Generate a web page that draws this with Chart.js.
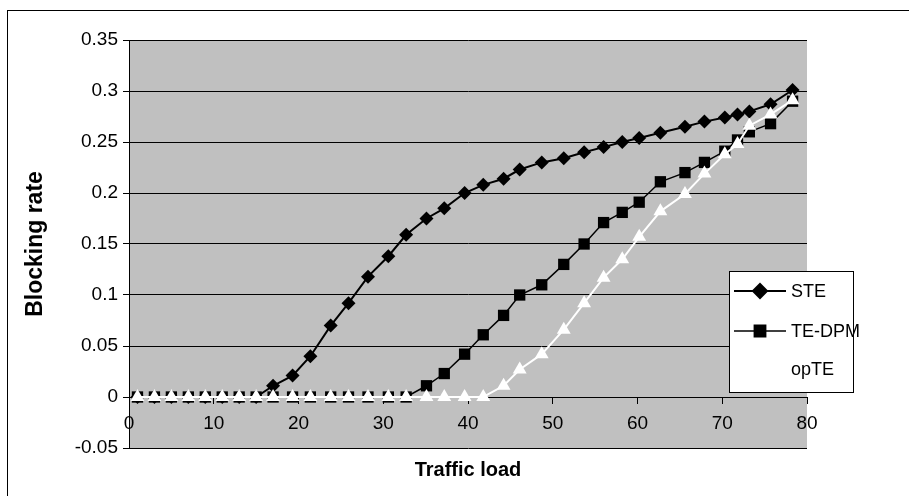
<!DOCTYPE html>
<html>
<head>
<meta charset="utf-8">
<script src="https://cdn.jsdelivr.net/npm/chart.js@4.4.1/dist/chart.umd.min.js"></script>
<style>
  body { margin: 0; background: #fff; }
  #wrap { position: relative; width: 909px; height: 496px; }
  #frame { position: absolute; left: 7px; top: 10px; width: 920px; height: 500px; border-left: 1px solid #000; border-top: 1px solid #000; }
  #xTitle { position: absolute; left: 129px; width: 678px; top: 458px; text-align: center;
            font: bold 20px "Liberation Sans", Arial, sans-serif; color: #000; }
</style>
</head>
<body>
<div id="wrap">
  <div id="frame"></div>
  <canvas id="blockingChart" width="909" height="496"></canvas>
  <div id="xTitle">Traffic load</div>
</div>
<script>
// Traffic load (x) shared by all three series
const load = [1, 3, 5, 7, 9, 11, 13, 15, 17, 19.3, 21.4, 23.8, 25.9, 28.2, 30.6, 32.7, 35.1, 37.2,
  39.6, 41.8, 44.2, 46.1, 48.7, 51.3, 53.7, 56, 58.2, 60.2, 62.7, 65.6, 67.9, 70.3, 71.8, 73.2, 75.7, 78.3];

const ste = [0, 0, 0, 0, 0, 0, 0, 0, 0.011, 0.021, 0.040, 0.070, 0.092, 0.118, 0.138, 0.159, 0.175, 0.185,
  0.200, 0.208, 0.214, 0.223, 0.230, 0.234, 0.240, 0.245, 0.250, 0.254, 0.259, 0.265, 0.270, 0.274, 0.277, 0.280, 0.287, 0.301];

const teDpm = [0, 0, 0, 0, 0, 0, 0, 0, 0, 0, 0, 0, 0, 0, 0, 0, 0.011, 0.023,
  0.042, 0.061, 0.080, 0.100, 0.110, 0.130, 0.150, 0.171, 0.181, 0.191, 0.211, 0.220, 0.230, 0.241, 0.252, 0.260, 0.268, 0.290];

const opTE = [0, 0, 0, 0, 0, 0, 0, 0, 0, 0, 0, 0, 0, 0, 0, 0, 0, 0,
  0, 0, 0.011, 0.027, 0.042, 0.066, 0.092, 0.117, 0.135, 0.157, 0.182, 0.199, 0.219, 0.238, 0.248, 0.266, 0.277, 0.291];

const xTicks = [0, 10, 20, 30, 40, 50, 60, 70, 80];
const yTicks = [-0.05, 0, 0.05, 0.1, 0.15, 0.2, 0.25, 0.3, 0.35];

const toPoints = (ys) => ys.map((y, i) => ({ x: load[i], y: y }));
const FONT = '"Liberation Sans", Arial, sans-serif';

// gray plot area like the old Excel default
const plotBg = {
  id: "plotBg",
  beforeDraw(chart) {
    const { ctx, chartArea: a } = chart;
    ctx.save();
    ctx.fillStyle = "#c0c0c0";
    ctx.fillRect(a.left, a.top, a.right - a.left, a.bottom - a.top);
    ctx.restore();
  },
};

// legend box sitting over the right side of the plot
const boxLegend = {
  id: "boxLegend",
  afterDraw(chart) {
    const ctx = chart.ctx;
    const bx = 729, by = 271, bw = 124, bh = 121;
    ctx.save();
    ctx.fillStyle = "#fff";
    ctx.fillRect(bx, by, bw, bh);
    ctx.strokeStyle = "#000";
    ctx.lineWidth = 1;
    ctx.strokeRect(bx + 0.5, by + 0.5, bw, bh);
    const rows = [291, 331, 369];
    chart.data.datasets.forEach((ds, i) => {
      const y = rows[i];
      ctx.strokeStyle = ds.borderColor;
      ctx.lineWidth = ds.borderWidth;
      ctx.beginPath();
      ctx.moveTo(734, y);
      ctx.lineTo(786, y);
      ctx.stroke();
      Chart.helpers.drawPoint(ctx, {
        pointStyle: ds.pointStyle, radius: ds.pointRadius, borderWidth: 1
      }, 760, y);
      ctx.fillStyle = ds.pointBackgroundColor;
      ctx.fill();
      ctx.fillStyle = "#000";
      ctx.font = "18px " + FONT;
      ctx.textBaseline = "middle";
      ctx.textAlign = "left";
      ctx.fillText(ds.label, 791, y + 1);
    });
    ctx.restore();
  },
};

const chartCtx = document.getElementById("blockingChart");
new Chart(chartCtx, {
  type: "line",
  data: {
    datasets: [
      {
        label: "STE",
        data: toPoints(ste),
        borderColor: "#000",
        borderWidth: 2,
        pointStyle: "rectRot",
        pointRadius: 7,
        pointBackgroundColor: "#000",
        pointBorderColor: "#000",
        pointBorderWidth: 0,
        order: 2,
      },
      {
        label: "TE-DPM",
        data: toPoints(teDpm),
        borderColor: "#000",
        borderWidth: 1.5,
        pointStyle: "rect",
        pointRadius: 8,
        pointBackgroundColor: "#000",
        pointBorderColor: "#000",
        pointBorderWidth: 0,
        order: 1,
      },
      {
        label: "opTE",
        data: toPoints(opTE),
        borderColor: "#fff",
        borderWidth: 2,
        pointStyle: "triangle",
        pointRadius: 8,
        pointBackgroundColor: "#fff",
        pointBorderColor: "#fff",
        pointBorderWidth: 0,
        order: 0,
      },
    ],
  },
  options: {
    responsive: false,
    animation: false,
    layout: { padding: { left: 8, right: 102, top: 40, bottom: 48 } },
    plugins: { legend: { display: false }, tooltip: { enabled: false } },
    elements: { line: { tension: 0 } },
    scales: {
      x: {
        type: "linear",
        position: { y: 0 },
        min: 0,
        max: 80,
        afterBuildTicks: (s) => { s.ticks = xTicks.map((v) => ({ value: v })); },
        ticks: { color: "#000", font: { size: 19, family: FONT }, padding: 9, maxRotation: 0 },
        grid: { drawOnChartArea: false, drawTicks: true, tickLength: 6, color: "#000" },
        border: { display: true, color: "#000", width: 1 },
      },
      y: {
        min: -0.05,
        max: 0.35,
        afterBuildTicks: (s) => { s.ticks = yTicks.map((v) => ({ value: v })); },
        afterFit: (s) => { s.width = 121; },
        ticks: {
          color: "#000",
          font: { size: 19, family: FONT },
          padding: 5,
          callback: (v) => String(+v.toFixed(2)),
        },
        grid: { color: "#000", lineWidth: 1, tickLength: 6 },
        border: { display: true, color: "#000", width: 1 },
        title: {
          display: true,
          text: "Blocking rate",
          color: "#000",
          font: { size: 23, weight: "bold", family: FONT },
          padding: { top: 14, bottom: 0 },
        },
      },
    },
  },
  plugins: [plotBg, boxLegend],
});
</script>
</body>
</html>
